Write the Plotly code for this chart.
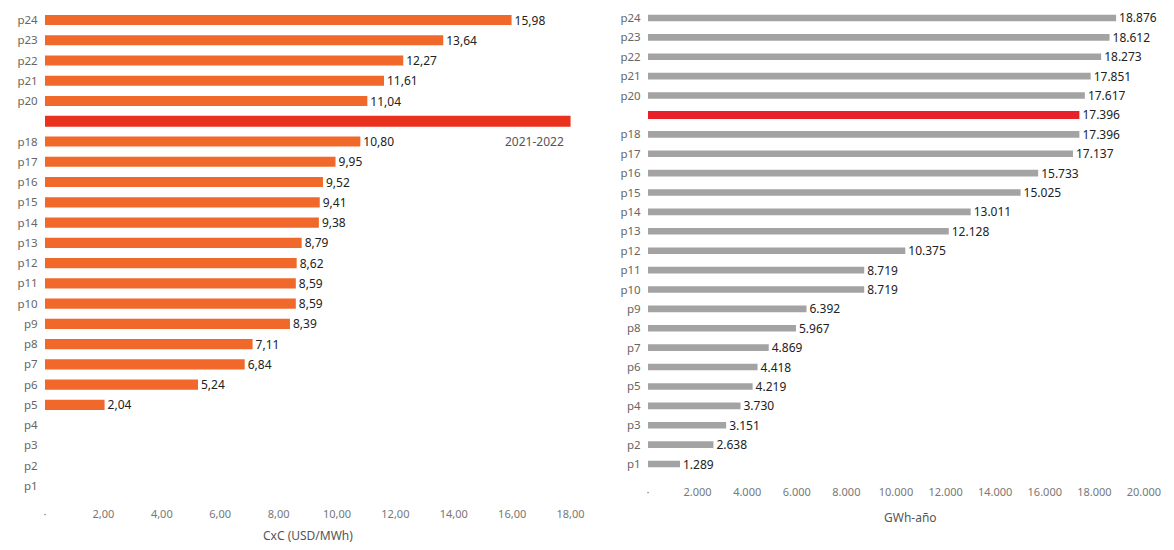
import plotly.graph_objects as go

# Periods p1..p24; the p19 slot holds the 2021-2022 highlight row
periods = [f"p{i}" for i in range(1, 25)]
highlight = "p19"

# CxC (USD/MWh) per period; p1-p4 have no value, p19 row is the 2021-2022 reference bar
cxc = [None, None, None, None, 2.04, 5.24, 6.84, 7.11, 8.39, 8.59, 8.59, 8.62,
       8.79, 9.38, 9.41, 9.52, 9.95, 10.80, 18.00, 11.04, 11.61, 12.27, 13.64, 15.98]

# Energy (GWh-año) per period
gwh = [1289, 2638, 3151, 3730, 4219, 4418, 4869, 5967, 6392, 8719, 8719, 10375,
       12128, 13011, 15025, 15733, 17137, 17396, 17396, 17617, 17851, 18273, 18612, 18876]

left_ticks = [0, 2, 4, 6, 8, 10, 12, 14, 16, 18]
left_ticktext = ["·", "2,00", "4,00", "6,00", "8,00", "10,00", "12,00", "14,00", "16,00", "18,00"]
right_ticks = [0, 2000, 4000, 6000, 8000, 10000, 12000, 14000, 16000, 18000, 20000]
right_ticktext = ["·", "2.000", "4.000", "6.000", "8.000", "10.000", "12.000",
                  "14.000", "16.000", "18.000", "20.000"]

ORANGE = "#F0692A"
RED_L = "#E8321E"
GREY = "#A3A3A3"
RED_R = "#E8202A"
FONT = "Noto Sans"

is_hl = [p == highlight for p in periods]

left_text = ["" if (v is None or h) else f"{v:.2f}".replace(".", ",") for v, h in zip(cxc, is_hl)]
right_text = [f"{v:,}".replace(",", ".") for v in gwh]

fig = go.Figure()

fig.add_trace(go.Bar(
    x=cxc, y=periods, orientation="h",
    marker=dict(color=[RED_L if h else ORANGE for h in is_hl], line=dict(width=0)),
    width=[0.55 if h else 0.5 for h in is_hl],
    text=left_text, textposition="outside", cliponaxis=False, constraintext="none",
    textfont=dict(family=FONT, size=12, color="#222"),
    xaxis="x", yaxis="y", showlegend=False, hoverinfo="skip",
))

fig.add_trace(go.Bar(
    x=gwh, y=periods, orientation="h",
    marker=dict(color=[RED_R if h else GREY for h in is_hl], line=dict(width=0)),
    width=[0.42 if h else 0.34 for h in is_hl],
    text=right_text, textposition="outside", cliponaxis=False, constraintext="none",
    textfont=dict(family=FONT, size=12, color="#222"),
    xaxis="x2", yaxis="y2", showlegend=False, hoverinfo="skip",
))

ytickvals = periods
yticktext = ["" if p == highlight else p for p in periods]

W, H = 1174, 550

fig.update_layout(
    width=W, height=H,
    margin=dict(l=0, r=0, t=0, b=0),
    paper_bgcolor="white", plot_bgcolor="white",
    font=dict(family=FONT, size=12, color="#666"),
    barmode="overlay",
    xaxis=dict(domain=[45 / W, 591 / W], range=[0, 18.7],
               tickvals=left_ticks, ticktext=left_ticktext,
               showgrid=False, zeroline=False, showline=False,
               ticks="outside", ticklen=8, tickcolor="white",
               tickfont=dict(family=FONT, size=11, color="#777"),
               anchor="y"),
    yaxis=dict(domain=[1 - 496 / H, 1 - 9.9 / H], type="category",
               categoryorder="array", categoryarray=periods,
               tickvals=ytickvals, ticktext=yticktext,
               showgrid=False, zeroline=False, showline=False,
               ticks="outside", ticklen=4, tickcolor="white",
               tickfont=dict(family=FONT, size=11.5, color="#666"),
               anchor="x"),
    xaxis2=dict(domain=[648 / W, 1170 / W], range=[0, 21050],
                tickvals=right_ticks, ticktext=right_ticktext,
                showgrid=False, zeroline=False, showline=False,
                ticks="outside", ticklen=8, tickcolor="white",
                tickfont=dict(family=FONT, size=11, color="#777"),
                anchor="y2"),
    yaxis2=dict(domain=[1 - 473.7 / H, 1 - 8.3 / H], type="category",
                categoryorder="array", categoryarray=periods,
                tickvals=ytickvals, ticktext=yticktext,
                showgrid=False, zeroline=False, showline=False,
                ticks="outside", ticklen=4, tickcolor="white",
                tickfont=dict(family=FONT, size=11.5, color="#666"),
                anchor="x2"),
    annotations=[
        dict(text="2021-2022", x=17.85, y="p18", xref="x", yref="y",
             xanchor="right", yanchor="middle", showarrow=False,
             font=dict(family=FONT, size=12, color="#555")),
        dict(text="CxC (USD/MWh)", x=308 / W, y=1 - 535 / H, xref="paper", yref="paper",
             xanchor="center", yanchor="middle", showarrow=False,
             font=dict(family=FONT, size=12, color="#555")),
        dict(text="GWh-año", x=910 / W, y=1 - 517 / H, xref="paper", yref="paper",
             xanchor="center", yanchor="middle", showarrow=False,
             font=dict(family=FONT, size=12, color="#555")),
    ],
)

fig.write_html("out.html")
